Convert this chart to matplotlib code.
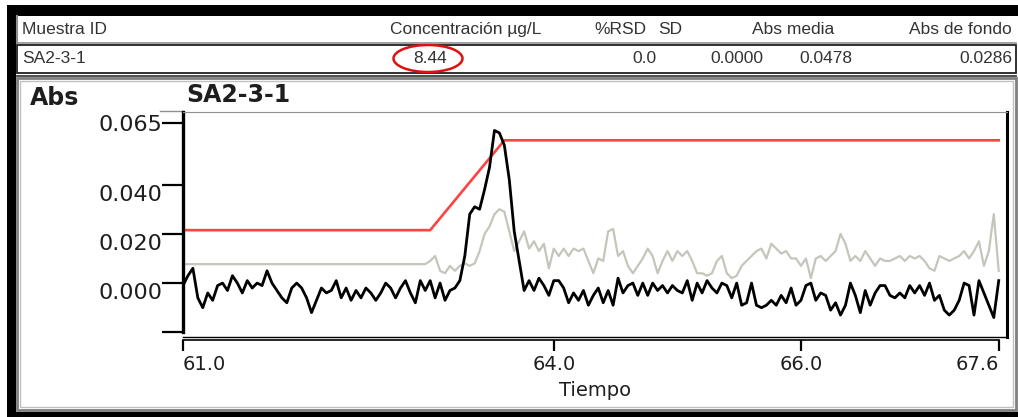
import numpy as np
import matplotlib
matplotlib.use("Agg")
import matplotlib.pyplot as plt
from matplotlib.patches import Rectangle, Ellipse

# --- datos de la lectura ---
muestra = "SA2-3-1"
columnas = ["Muestra ID", "Concentración µg/L", "%RSD", "SD", "Abs media", "Abs de fondo"]
concentracion = "8.44"
rsd = "0.0"
sd = "0.0000"
abs_media = "0.0478"
abs_fondo = "0.0286"

# tiempo de muestreo (s), paso de 0.04
tiempo = np.round(61.0 + 0.04 * np.arange(166), 2)

# absorbancia de la muestra (traza negra)
abs_muestra = [
    -0.001, 0.003, 0.006, -0.006, -0.010, -0.004, -0.007, -0.001, 0.000, -0.003,
    0.003, 0.000, -0.004, 0.001, -0.002, 0.000, -0.001, 0.005, 0.000, -0.003,
    -0.006, -0.008, -0.002, 0.000, -0.002, -0.006, -0.012, -0.007, -0.002, -0.004,
    -0.003, 0.001, -0.006, -0.002, -0.007, -0.003, -0.006, -0.002, -0.004, -0.007,
    -0.004, 0.000, -0.002, -0.006, -0.002, 0.001, -0.004, -0.008, 0.001, -0.003,
    0.001, -0.006, 0.000, -0.007, -0.003, -0.002, 0.001, 0.011, 0.028, 0.031,
    0.030, 0.038, 0.047, 0.062, 0.061, 0.056, 0.042, 0.021, 0.009, -0.003,
    0.001, -0.003, 0.002, -0.001, -0.005, 0.001, 0.001, -0.002, -0.008, -0.004,
    -0.007, -0.003, -0.009, -0.005, -0.002, -0.008, -0.003, -0.009, 0.002, -0.004,
    -0.001, 0.000, -0.005, 0.000, -0.005, 0.000, -0.003, -0.001, -0.004, -0.001,
    -0.003, -0.004, 0.001, -0.007, 0.000, -0.004, 0.001, -0.002, -0.004, 0.000,
    -0.001, -0.006, 0.000, -0.009, -0.008, 0.000, -0.009, -0.010, -0.009, -0.007,
    -0.009, -0.005, -0.008, -0.002, -0.009, -0.007, -0.001, 0.000, -0.007, -0.004,
    -0.005, -0.011, -0.008, -0.013, -0.009, 0.000, -0.005, -0.012, -0.003, -0.009,
    -0.004, -0.001, -0.001, -0.005, -0.006, -0.004, -0.006, -0.001, -0.004, -0.001,
    -0.005, 0.000, -0.007, -0.005, -0.011, -0.013, -0.011, -0.007, 0.000, -0.001,
    -0.013, 0.001, -0.004, -0.009, -0.014, 0.001,
]

# absorbancia de fondo (traza gris), constante hasta 62.96 s
tiempo_fondo_ini = 61.0
abs_fondo_traza = [
    0.0077,
    0.009, 0.011, 0.005, 0.004, 0.007, 0.005, 0.007, 0.008, 0.007, 0.008,
    0.013, 0.020, 0.023, 0.028, 0.030,
    0.029, 0.021, 0.013, 0.017, 0.021, 0.014, 0.017, 0.013, 0.016, 0.006,
    0.014, 0.011, 0.014, 0.011, 0.014, 0.013, 0.014, 0.009, 0.004, 0.010,
    0.009, 0.021, 0.022, 0.011, 0.013, 0.007, 0.004, 0.007, 0.010, 0.014,
    0.011, 0.004, 0.009, 0.013, 0.009, 0.013, 0.011, 0.013, 0.009, 0.004,
    0.004, 0.003, 0.004, 0.009, 0.011, 0.004, 0.002, 0.003, 0.007, 0.009,
    0.011, 0.013, 0.014, 0.010, 0.016, 0.014, 0.012, 0.013, 0.010, 0.010,
    0.007, 0.010, 0.002, 0.010, 0.011, 0.009, 0.011, 0.013, 0.020, 0.016,
    0.009, 0.011, 0.009, 0.013, 0.010, 0.007, 0.010, 0.009, 0.009, 0.010,
    0.011, 0.009, 0.011, 0.010, 0.011, 0.009, 0.006, 0.005, 0.011, 0.010,
    0.009, 0.010, 0.011, 0.013, 0.010, 0.013, 0.017, 0.007, 0.013, 0.028, 0.005,
]

# ventana de integración (línea roja)
ventana_t = [61.0, 63.0, 63.6, 67.6]
ventana_abs = [0.0215, 0.0215, 0.058, 0.058]

yticks = [0.065, 0.040, 0.020, 0.000, -0.020]
ytick_labels = ["0.065", "0.040", "0.020", "0.000", ""]
xticks = [61.0, 64.0, 66.0, 67.6]
xtick_labels = ["61.0", "64.0", "66.0", "67.6"]

assert len(abs_muestra) == len(tiempo)
assert len(abs_fondo_traza) == len(tiempo) - 49

W, H = 1018, 417
fig = plt.figure(figsize=(W / 100, H / 100), dpi=100)

# fondo de la ventana en coordenadas de pixel
bg = fig.add_axes([0, 0, 1, 1])
bg.set_xlim(0, W)
bg.set_ylim(H, 0)
bg.axis("off")

hdr = dict(family="Liberation Sans", fontsize=12.5, color="#333333", va="center")

bg.add_patch(Rectangle((7, 5), W - 7, 11, color="black", lw=0))
bg.add_patch(Rectangle((7, 5), 9, H - 5, color="black", lw=0))
bg.add_patch(Rectangle((7, 412), W - 7, 5, color="black", lw=0))
bg.plot([17, 17], [16, 43], color="#909090", lw=1.5)
bg.plot([17, W - 2], [42.5, 42.5], color="#909090", lw=1.2)
bg.add_patch(Rectangle((17, 44.5), W - 19, 28.5, fill=False, ec="#202020", lw=1.3))
bg.plot([17, W - 2], [76, 76], color="#404040", lw=1.3)
bg.add_patch(Rectangle((17, 78), W - 19, 332, fill=False, ec="#808080", lw=2))
bg.add_patch(Rectangle((20, 81), W - 25, 326, fill=False, ec="#c0c0c0", lw=1))

# cabecera de la tabla
bg.text(22, 29, columnas[0], ha="left", **hdr)
bg.text(466, 29, columnas[1], ha="center", **hdr)
bg.text(620, 29, columnas[2], ha="center", **hdr)
bg.text(670, 29, columnas[3], ha="center", **hdr)
bg.text(793, 29, columnas[4], ha="center", **hdr)
bg.text(1012, 29, columnas[5], ha="right", **hdr)

bg.text(22, 58, muestra, ha="left", **hdr)
bg.text(430, 58, concentracion, ha="center", **hdr)
bg.text(657, 58, rsd, ha="right", **hdr)
bg.text(763, 58, sd, ha="right", **hdr)
bg.text(852, 58, abs_media, ha="right", **hdr)
bg.text(1012, 58, abs_fondo, ha="right", **hdr)
bg.add_patch(Ellipse((428, 58.5), 69, 27, fill=False, ec="#e01010", lw=1.8))

txt = "#1e1e1e"
bg.text(30, 98, "Abs", fontsize=17, fontweight="bold", color=txt, va="center",
        family="DejaVu Sans")
bg.text(186, 95, muestra, fontsize=17, fontweight="bold", color=txt, va="center",
        family="DejaVu Sans")
bg.plot([160, 183], [110.5, 110.5], color="#909090", lw=1)

# grafico de absorbancia
ax = fig.add_axes([183 / W, (H - 337) / H, (1007 - 183) / W, (337 - 112) / H])
ax.set_facecolor("white")
ax.plot(np.r_[tiempo_fondo_ini, tiempo[49:]], np.r_[abs_fondo_traza[0], abs_fondo_traza],
        color="#c6c5bc", lw=1.6)
ax.plot(ventana_t, ventana_abs, color="#ff4242", lw=1.9)
ax.plot(tiempo, abs_muestra, color="black", lw=2.0)

ax.set_xlim(61.0, 67.667)
ax.set_ylim(-0.0219, 0.0695)

ax.spines["top"].set_color("#909090")
ax.spines["top"].set_linewidth(0.8)
ax.spines["right"].set_linewidth(2.2)
ax.spines["left"].set_linewidth(2.4)
ax.spines["left"].set_bounds(-0.020, 0.0695)
ax.spines["bottom"].set_position(("outward", 2))
ax.spines["bottom"].set_bounds(61.0, 67.6)
ax.spines["bottom"].set_linewidth(1.2)
ax.plot([0, 1], [0, 0], transform=ax.transAxes, color="black", lw=1, clip_on=False)

ax.set_yticks(yticks)
ax.set_yticklabels(ytick_labels, fontsize=16, color=txt, family="DejaVu Sans")
ax.tick_params(axis="y", direction="out", length=15, width=1.6, pad=0)
for lbl in ax.get_yticklabels()[1:]:
    lbl.set_va("top")

ax.set_xticks(xticks)
ax.set_xticklabels(xtick_labels, fontsize=14, color=txt, family="DejaVu Sans")
ax.tick_params(axis="x", direction="out", length=8, width=1.6, pad=3)
xl = ax.get_xticklabels()
xl[0].set_ha("left")
xl[-1].set_ha("right")

ax.set_xlabel("Tiempo", fontsize=14, color=txt, family="DejaVu Sans", labelpad=5)

fig.savefig("out.png", dpi=100)
